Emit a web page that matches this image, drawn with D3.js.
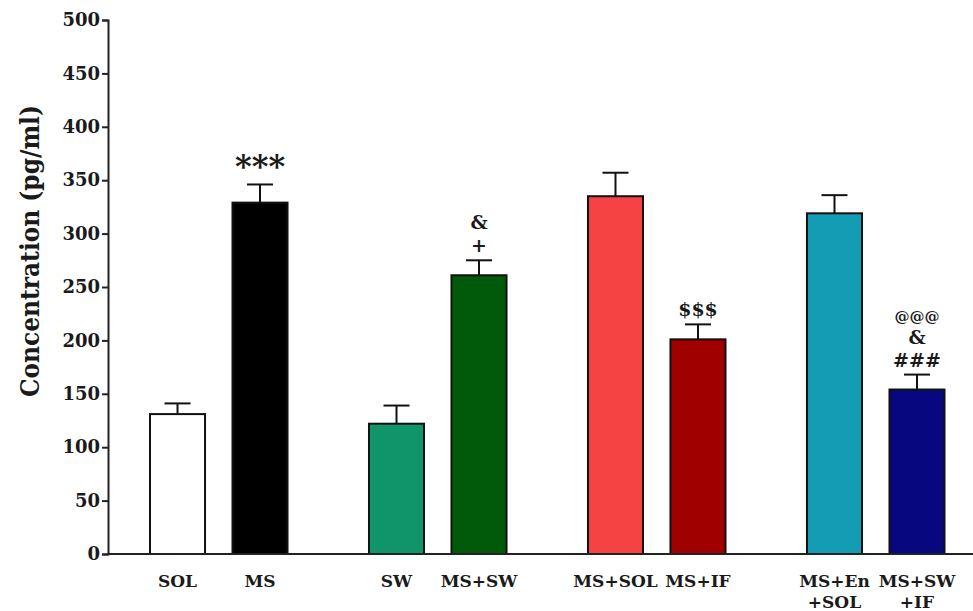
<!DOCTYPE html>
<html>
<head>
<meta charset="utf-8">
<script src="https://cdn.jsdelivr.net/npm/d3@7"></script>
<style>
  body { margin: 0; background: #fff; }
  svg { display: block; }
  text { font-family: "DejaVu Serif", serif; font-weight: bold; fill: #1a1a1a; }
</style>
</head>
<body>
<div id="chart"></div>
<script>
// groups of two bars each
const groups = ['g1', 'g2', 'g3', 'g4'];
const labels = [['SOL'], ['MS'], ['SW'], ['MS+SW'], ['MS+SOL'], ['MS+IF'], ['MS+En', '+SOL'], ['MS+SW', '+IF']];
const means = [131, 329, 122, 261, 335, 201, 319, 154];
const sems = [10, 17, 17, 14, 22, 14, 17, 14];
const colors = ['#ffffff', '#000000', '#10956a', '#005a0a', '#f54343', '#a00000', '#139cb3', '#07077f'];
const marks = [[], ['***'], [], ['&', '+'], [], ['$$$'], [], ['@@@', '&', '###']];
const yTicks = [0, 50, 100, 150, 200, 250, 300, 350, 400, 450, 500];

const W = 973, H = 611;
const svg = d3.select('#chart').append('svg').attr('width', W).attr('height', H);

const y = d3.scaleLinear().domain([0, 500]).range([554, 20]);
const x0 = d3.scaleBand().domain(groups).range([150, 944.5]).paddingInner(0.372).paddingOuter(0);
const x1 = d3.scaleBand().domain([0, 1]).range([0, x0.bandwidth()]).paddingInner(0.333).paddingOuter(0);

const bars = means.map((v, i) => ({
    i: i,
    v: v,
    e: sems[i],
    x: x0(groups[Math.floor(i / 2)]) + x1(i % 2),
    w: x1.bandwidth()
}));

// error bars (drawn first so bar covers lower part)
const eg = svg.append('g').attr('stroke', '#111').attr('stroke-width', 2);
bars.forEach(d => {
    const cx = d.x + d.w / 2;
    eg.append('line').attr('x1', cx).attr('x2', cx).attr('y1', y(d.v)).attr('y2', y(d.v + d.e));
    eg.append('line').attr('x1', cx - 13).attr('x2', cx + 13).attr('y1', y(d.v + d.e)).attr('y2', y(d.v + d.e));
});

svg.append('g').selectAll('rect')
    .data(bars)
    .enter()
    .append('rect')
    .attr('x', d => d.x)
    .attr('y', d => y(d.v))
    .attr('width', d => d.w)
    .attr('height', d => y(0) - y(d.v))
    .attr('fill', d => colors[d.i])
    .attr('stroke', '#111')
    .attr('stroke-width', 2);

// significance marks
bars.forEach(d => {
    const m = marks[d.i];
    const cx = d.x + d.w / 2;
    const top = y(d.v + d.e);
    const n = m.length;
    m.forEach((s, k) => {
        const fromTop = n - 1 - k;
        const big = s === '***';
        const small = s === '@@@';
        svg.append('text')
            .attr('x', cx)
            .attr('y', top - 8 - fromTop * 23 + (big ? 1 : 0))
            .attr('text-anchor', 'middle')
            .style('font-size', big ? '32px' : (small ? '15px' : '19px'))
            .text(s);
    });
});

// axes
const yAxis = svg.append('g')
    .attr('transform', 'translate(108,0)')
    .call(d3.axisLeft(y).tickValues(yTicks).tickSize(6).tickPadding(2).tickFormat(d3.format('d')));
yAxis.select('.domain').attr('stroke', '#222').attr('stroke-width', 2);
yAxis.selectAll('.tick line').attr('stroke', '#222').attr('stroke-width', 2);
yAxis.selectAll('.tick text').style('font-size', '18px').attr('fill', '#1a1a1a');

svg.append('line')
    .attr('x1', 107).attr('x2', W).attr('y1', y(0)).attr('y2', y(0))
    .attr('stroke', '#222').attr('stroke-width', 2);

// x labels
bars.forEach(d => {
    const t = svg.append('text')
        .attr('x', d.x + d.w / 2)
        .attr('y', 587)
        .attr('text-anchor', 'middle')
        .style('font-size', '17px');
    labels[d.i].forEach((line, k) => {
        t.append('tspan').attr('x', d.x + d.w / 2).attr('dy', k === 0 ? 0 : 21).text(line);
    });
});

svg.append('text')
    .attr('transform', 'translate(39,251) rotate(-90)')
    .attr('text-anchor', 'middle')
    .style('font-size', '26px')
    .attr('textLength', 292)
    .attr('lengthAdjust', 'spacingAndGlyphs')
    .text('Concentration (pg/ml)');
</script>
</body>
</html>
